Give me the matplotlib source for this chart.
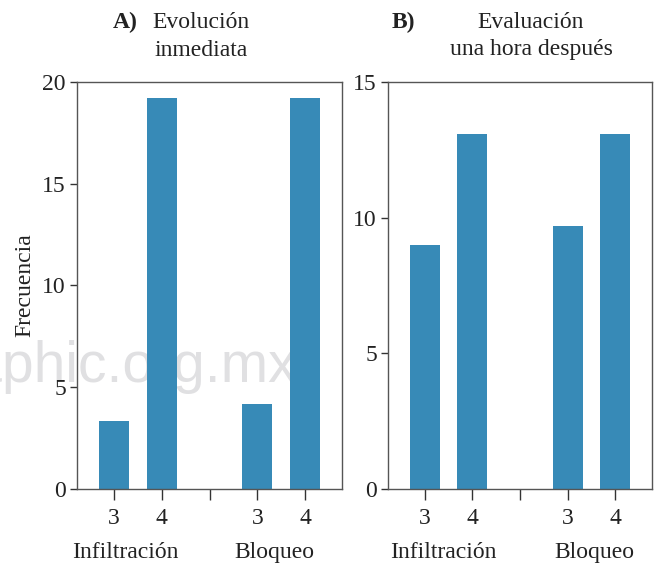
import matplotlib
matplotlib.use('Agg')
import matplotlib.pyplot as plt
import matplotlib.transforms as mtransforms

plt.rcParams['font.family'] = ['Liberation Serif', 'DejaVu Serif']

grupos = ['Infiltración', 'Bloqueo']
niveles = ['3', '4']
# frecuencias por panel: [Infiltración 3, Infiltración 4, Bloqueo 3, Bloqueo 4]
frec_a = [3.35, 19.2, 4.2, 19.2]
frec_b = [9.0, 13.1, 9.7, 13.1]
ylim_a = 20
ylim_b = 15

azul = '#378ab7'
gris = '#555555'

fig = plt.figure(figsize=(6.56, 5.64), dpi=100)
ax1 = fig.add_axes([0.1174, 0.133, 0.404, 0.7216])
ax2 = fig.add_axes([0.5915, 0.133, 0.4024, 0.7216])

# marca de agua al fondo
fig.text(0.452, 0.322, 'medigraphic.org.mx', ha='right', va='baseline',
         fontsize=41, color='#e0e0e2', family='Liberation Sans',
         zorder=-1)

pos = [0, 1, 3, 4]
for ax, vals, top, gx in [(ax1, frec_a, ylim_a, [0.24, 3.35]),
                          (ax2, frec_b, ylim_b, [0.40, 3.57])]:
    ax.set_facecolor('none')
    ax.bar(pos, vals, width=0.63, color=azul, zorder=2)
    ax.set_xlim(-0.77, 4.77)
    ax.set_ylim(0, top)
    ax.set_yticks(range(0, top + 1, 5))
    ax.set_xticks([0, 1, 2, 3, 4])
    ax.set_xticklabels(niveles + [''] + niveles)
    for s in ax.spines.values():
        s.set_color(gris)
        s.set_linewidth(1.0)
    ax.tick_params(axis='x', length=8, width=1, color='#333333',
                   labelsize=17, pad=6, labelcolor='#222222')
    ax.tick_params(axis='y', length=5, width=1, color='#333333',
                   labelsize=17, pad=3, labelcolor='#222222')
    trans = mtransforms.blended_transform_factory(ax.transData, ax.transAxes)
    for g, x in zip(grupos, gx):
        ax.text(x, -0.157, g, transform=trans, ha='center', va='center',
                fontsize=17, color='#222222')

ax1.set_ylabel('Frecuencia', fontsize=17, color='#222222', labelpad=5)

# titulos
fig.text(125 / 656, 1 - 22 / 564, 'A)', ha='center', va='center',
         fontsize=17, fontweight='bold', color='#222222')
fig.text(201 / 656, 1 - 22 / 564, 'Evolución', ha='center', va='center',
         fontsize=17, color='#222222')
fig.text(201 / 656, 1 - 50 / 564, 'inmediata', ha='center', va='center',
         fontsize=17, color='#222222')
fig.text(403 / 656, 1 - 22 / 564, 'B)', ha='center', va='center',
         fontsize=17, fontweight='bold', color='#222222')
fig.text(531 / 656, 1 - 22 / 564, 'Evaluación', ha='center', va='center',
         fontsize=17, color='#222222')
fig.text(531 / 656, 1 - 50 / 564, 'una hora después', ha='center', va='center',
         fontsize=17, color='#222222')

fig.savefig('out.png', dpi=100)
